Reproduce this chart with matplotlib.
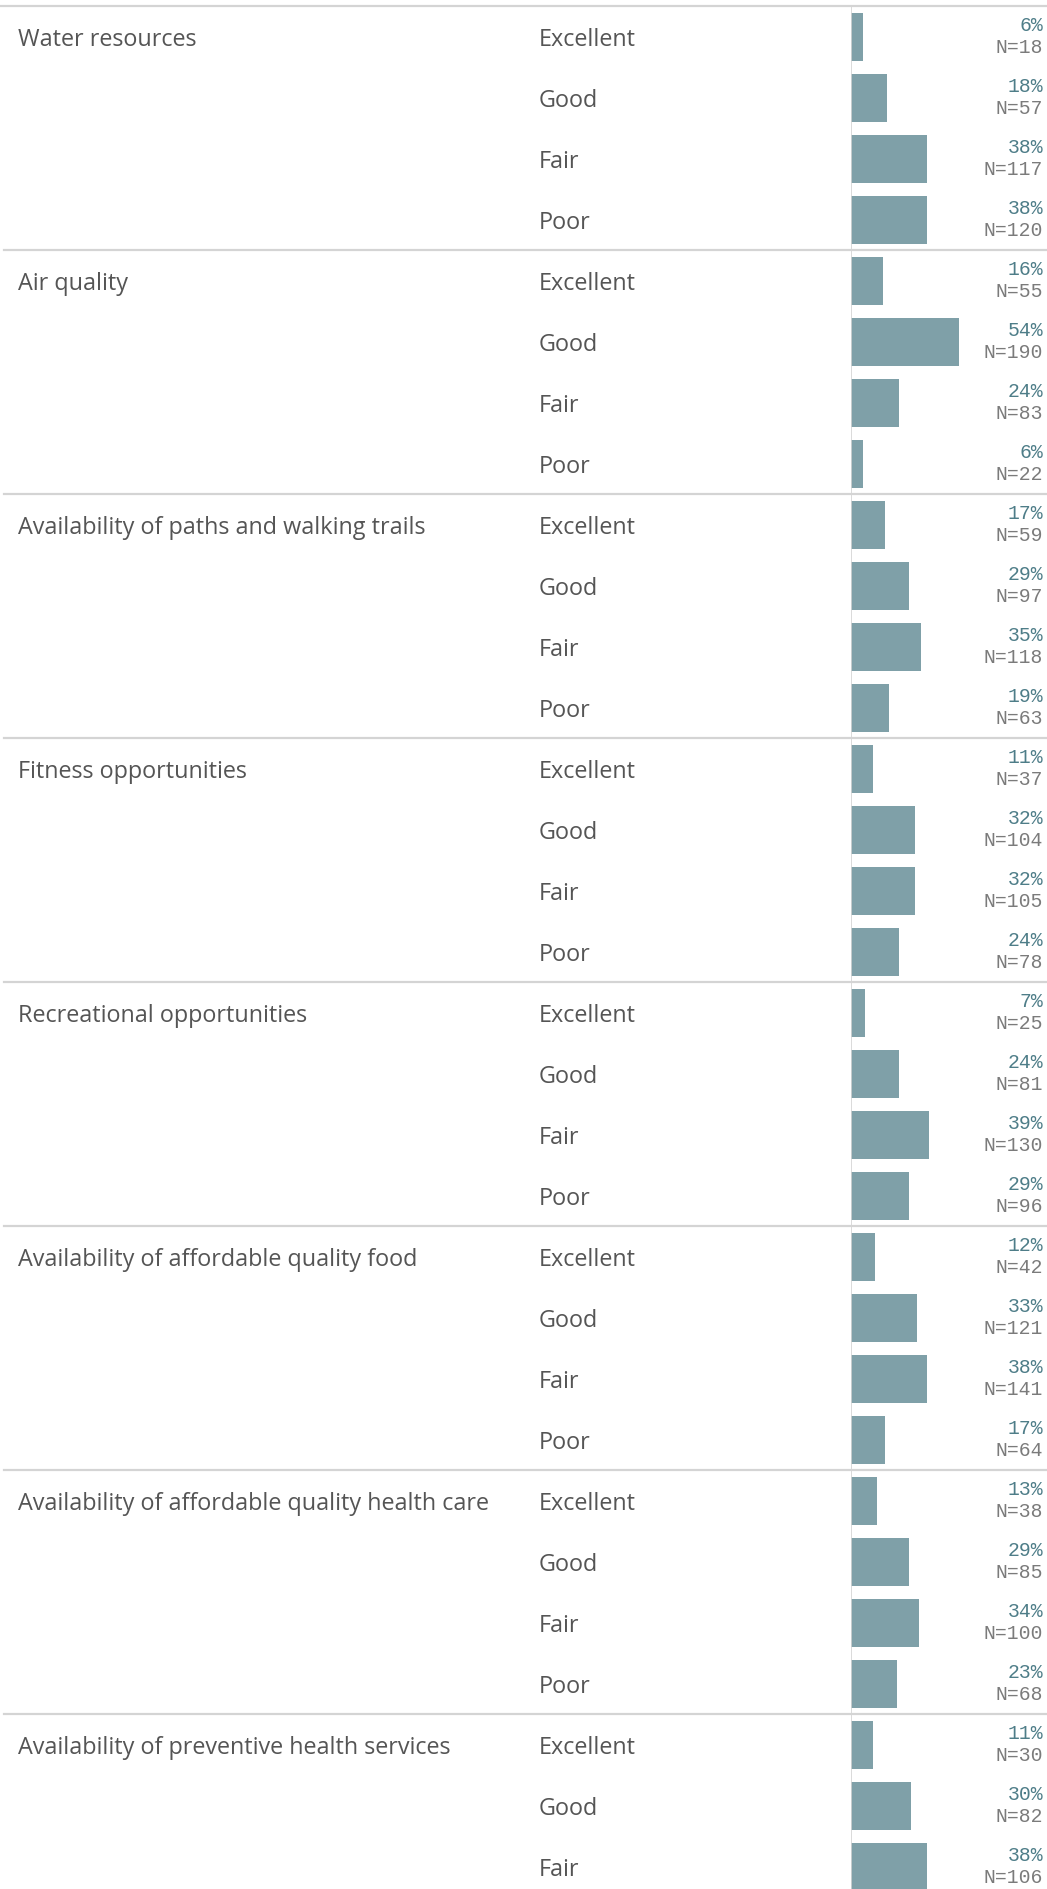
import matplotlib.pyplot as plt
from matplotlib.lines import Line2D
from matplotlib.transforms import blended_transform_factory

categories = [
    "Water resources",
    "Air quality",
    "Availability of paths and walking trails",
    "Fitness opportunities",
    "Recreational opportunities",
    "Availability of affordable quality food",
    "Availability of affordable quality health care",
    "Availability of preventive health services",
]
ratings = ["Excellent", "Good", "Fair", "Poor"]

water_pct = [6, 18, 38, 38]
water_n = [18, 57, 117, 120]
air_pct = [16, 54, 24, 6]
air_n = [55, 190, 83, 22]
paths_pct = [17, 29, 35, 19]
paths_n = [59, 97, 118, 63]
fitness_pct = [11, 32, 32, 24]
fitness_n = [37, 104, 105, 78]
recreation_pct = [7, 24, 39, 29]
recreation_n = [25, 81, 130, 96]
food_pct = [12, 33, 38, 17]
food_n = [42, 121, 141, 64]
healthcare_pct = [13, 29, 34, 23]
healthcare_n = [38, 85, 100, 68]
preventive_pct = [11, 30, 38]   # last row cut off in the view
preventive_n = [30, 82, 106]

pct_lists = [water_pct, air_pct, paths_pct, fitness_pct, recreation_pct,
             food_pct, healthcare_pct, preventive_pct]
n_lists = [water_n, air_n, paths_n, fitness_n, recreation_n,
           food_n, healthcare_n, preventive_n]

W, H = 1047, 1889
TOP = 6
ROW_H = 61.0
AXIS_X = 851
PX_PER_PCT = 2.0

BAR_COLOR = "#7fa0a8"
PCT_COLOR = "#4e7d88"
N_COLOR = "#7b7b7b"
LABEL_COLOR = "#555555"
LINE_COLOR = "#d4d4d4"

fig = plt.figure(figsize=(W / 100, H / 100), dpi=100)
ax = fig.add_axes([AXIS_X / W, 0, (W - AXIS_X) / W, (H - TOP) / H])
n_rows_visible = (H - TOP) / ROW_H
ax.set_ylim(n_rows_visible, 0)
ax.set_xlim(0, (W - AXIS_X) / PX_PER_PCT)
ax.axis("off")

tr = blended_transform_factory(fig.transFigure, ax.transData)

row = 0
for s, (cat, pcts, ns) in enumerate(zip(categories, pct_lists, n_lists)):
    # separator line above each section
    fig.add_artist(Line2D([4 / W if s else 0, 1], [row, row], transform=tr,
                          color=LINE_COLOR, lw=1.6, zorder=1))
    fig.text(18 / W, row + 0.55, cat, transform=tr, ha="left", va="center",
             fontsize=16.8, color=LABEL_COLOR, family="Open Sans")
    for r, (p, n) in enumerate(zip(pcts, ns)):
        y = row + r
        ax.barh(y + 0.51, p, height=0.79, left=0, color=BAR_COLOR, zorder=2)
        fig.text(539 / W, y + 0.55, ratings[r], transform=tr, ha="left",
                 va="center", fontsize=16.8, color=LABEL_COLOR,
                 family="Open Sans")
        fig.text(1043 / W, y + 0.32, f"{p}%", transform=tr, ha="right",
                 va="center", fontsize=14.2, color=PCT_COLOR,
                 family="Liberation Mono")
        fig.text(1043 / W, y + 0.68, f"N={n}", transform=tr, ha="right",
                 va="center", fontsize=14.2, color=N_COLOR,
                 family="Liberation Mono")
    row += 4

# vertical axis line
ax.axvline(0, color=LINE_COLOR, lw=1.2, zorder=3)

fig.savefig("out.png", dpi=100)
